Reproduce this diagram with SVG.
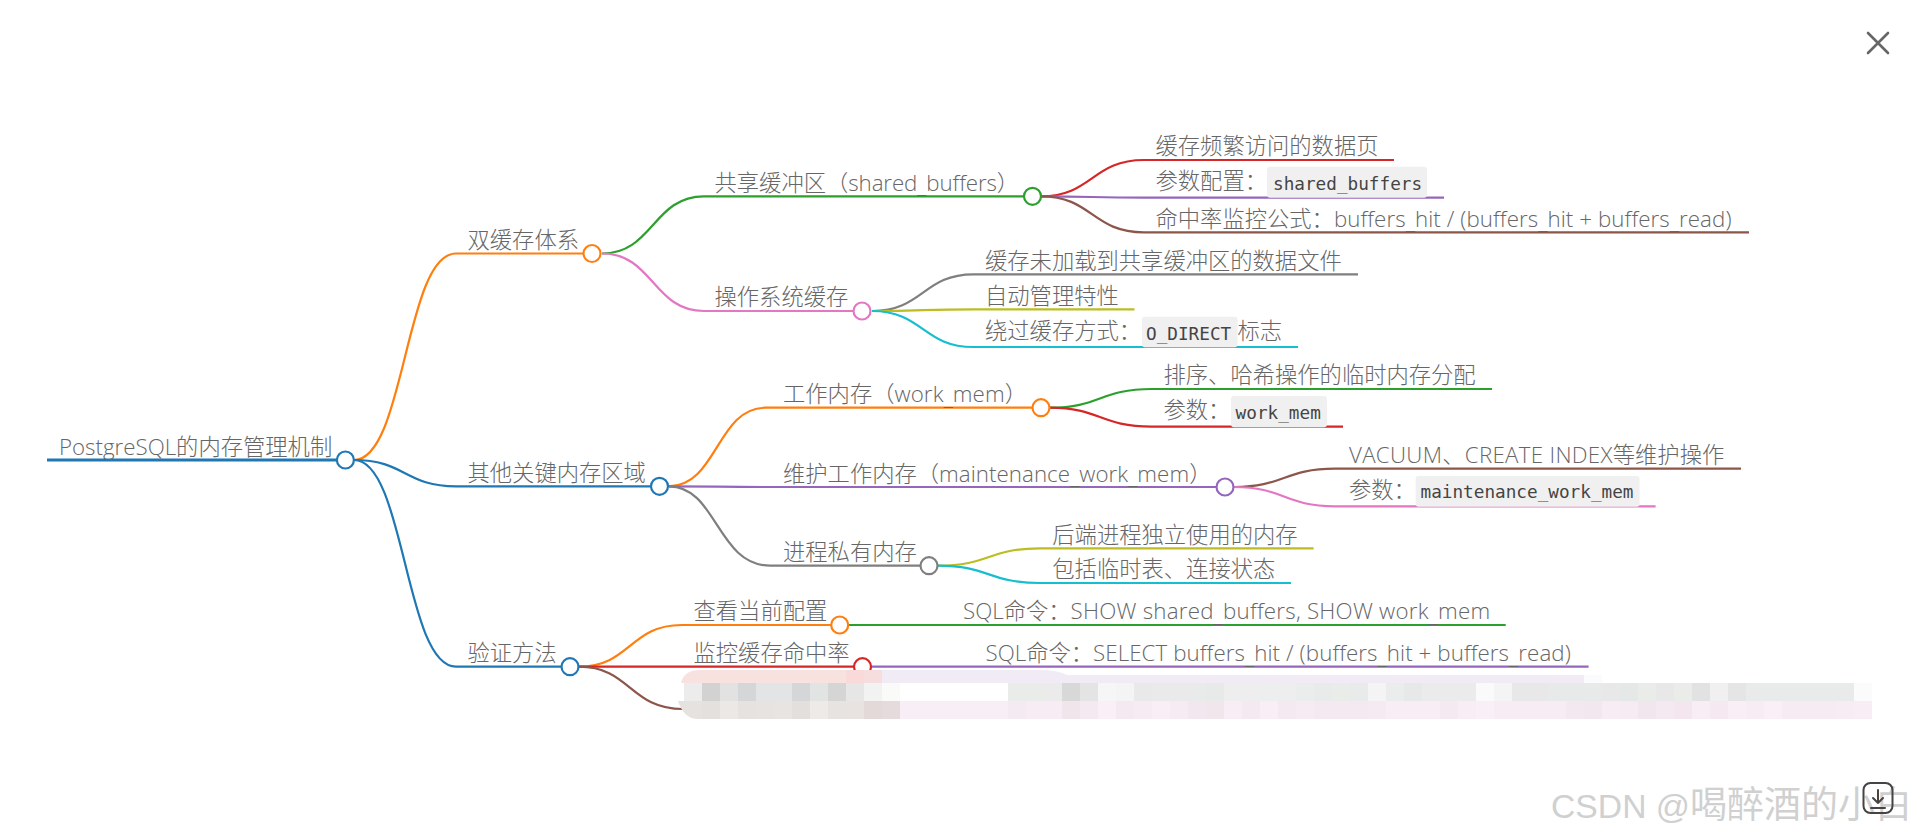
<svg xmlns="http://www.w3.org/2000/svg" width="1920" height="839" viewBox="0 0 1920 839">
<style>
text{font-family:"Open Sans","Noto Sans CJK SC",sans-serif;font-weight:300;font-size:22.3px;fill:#666}
.la{letter-spacing:.09px}
.lb{letter-spacing:.24px}
.lc{letter-spacing:.3px}
.ld{letter-spacing:-.1px}
.le{letter-spacing:.05px}
.code{font-family:"DejaVu Sans Mono",monospace;font-size:17.7px;font-weight:400;fill:#444}
.box{fill:#f0f0f0}
.l{fill:none;stroke-width:2.2}
.n{fill:#fff;stroke-width:2.2}
.c0{stroke:#1f77b4}.c1{stroke:#ff7f0e}.c2{stroke:#2ca02c}.c3{stroke:#d62728}.c4{stroke:#9467bd}.c5{stroke:#8c564b}.c6{stroke:#e377c2}.c7{stroke:#7f7f7f}.c8{stroke:#bcbd22}.c9{stroke:#17becf}
.wm{font-family:"Liberation Sans","Noto Sans CJK SC",sans-serif;font-weight:400;font-size:37px;fill:#d0d0d0}
.ui{fill:none;stroke:#555;stroke-linecap:round;stroke-linejoin:round}
.m rect{width:18px;height:18px}
.r2 rect{y:683px}.r3 rect{y:701px}
</style>
<g id="connectors">
<path class="l c0" style="stroke-width:3" d="M47 460H337"/>
<path class="l c1" d="M354 460C405 460 405 253.5 456 253.5H584"/>
<path class="l c0" d="M354 460C405 460 405 486.3 456 486.3H651"/>
<path class="l c0" d="M354 460C405 460 405 666.7 456 666.7H562"/>
<path class="l c2" d="M602 253.5C653 253.5 653 196.3 704 196.3H1024"/>
<path class="l c6" d="M602 253.5C653 253.5 653 311 704 311H854"/>
<path class="l c3" d="M1041 196.3C1092 196.3 1092 160 1144 160H1394"/>
<path class="l c4" d="M1041 196.3C1092 196.3 1092 197.7 1144 197.7H1444"/>
<path class="l c5" d="M1041 196.3C1092 196.3 1092 232.3 1144 232.3H1749"/>
<path class="l c7" d="M872 311C923 311 923 274.3 973.5 274.3H1358"/>
<path class="l c8" d="M872 311C923 311 923 309.3 973.5 309.3H1134.5"/>
<path class="l c9" d="M872 311C923 311 923 347 973.5 347H1298"/>
<path class="l c1" d="M669 486.3C717 486.3 717 407.7 765.5 407.7H1033"/>
<path class="l c4" d="M669 486.3C717 486.3 717 487 770 487H1217"/>
<path class="l c7" d="M669 486.3C717 486.3 717 565.7 770.5 565.7H921"/>
<path class="l c2" d="M1050 407.7C1100 407.7 1100 389 1151.7 389H1492"/>
<path class="l c3" d="M1050 407.7C1100 407.7 1100 426.7 1151.7 426.7H1343"/>
<path class="l c5" d="M1234 487C1284 487 1284 468.7 1335 468.7H1741"/>
<path class="l c6" d="M1234 487C1284 487 1284 506.3 1335 506.3H1655.6"/>
<path class="l c8" d="M938 565.7C989 565.7 989 548.3 1040 548.3H1313.6"/>
<path class="l c9" d="M938 565.7C989 565.7 989 583 1040 583H1291"/>
<path class="l c1" d="M579 666.7C630 666.7 630 625 681.7 625H832"/>
<path class="l c2" d="M849 625H1505.7"/>
<path class="l c3" d="M579 666.7H854"/>
<path class="l c4" d="M871 666.7H1588.6"/>
<path class="l c5" d="M579 666.7C630 666.7 630 709 682.7 709"/>
</g>
<g id="root"><text x="59" y="454.5">PostgreSQL的内存管理机制</text><circle class="n c0" cx="345.4" cy="460" r="8.5"/></g>
<g id="n-dual"><text x="467.5" y="248">双缓存体系</text><circle class="n c1" cx="592" cy="253.5" r="8.5"/></g>
<g id="n-other"><text x="467.5" y="480.5">其他关键内存区域</text><circle class="n c0" cx="659.5" cy="486.3" r="8.5"/></g>
<g id="n-verify"><text x="467.5" y="661">验证方法</text><circle class="n c0" cx="570" cy="666.7" r="8.5"/></g>
<g id="n-shared"><text x="714.5" y="190.5">共享缓冲区（<tspan class="ld">shared<tspan dy="2.5">_</tspan><tspan dy="-2.5">buffers</tspan></tspan>）</text><circle class="n c2" cx="1032.5" cy="196.3" r="8.5"/></g>
<g id="n-os"><text x="714.5" y="305">操作系统缓存</text><circle class="n c6" cx="862" cy="311" r="8.5"/></g>
<g id="n-work"><text x="783" y="402">工作内存（<tspan class="la">work<tspan dy="2.5">_</tspan><tspan dy="-2.5">mem</tspan></tspan>）</text><circle class="n c1" cx="1041" cy="407.7" r="8.5"/></g>
<g id="n-maint"><text x="783" y="481.5">维护工作内存（<tspan class="le">maintenance<tspan dy="2.5">_</tspan><tspan dy="-2.5">work</tspan><tspan dy="2.5">_</tspan><tspan dy="-2.5">mem</tspan></tspan>）</text><circle class="n c4" cx="1225" cy="487" r="8.5"/></g>
<g id="n-private"><text x="783" y="560">进程私有内存</text><circle class="n c7" cx="929" cy="565.7" r="8.5"/></g>
<g id="n-showcfg"><text x="693.5" y="619">查看当前配置</text><circle class="n c1" cx="839.7" cy="625" r="8.5"/></g>
<g id="n-monitor"><text x="693.5" y="661">监控缓存命中率</text><circle class="n c3" cx="862.5" cy="666.7" r="8.5"/></g>
<g id="leaf-1"><text x="1155.5" y="154">缓存频繁访问的数据页</text></g>
<g id="leaf-2"><text x="1155.5" y="189">参数配置：</text><rect class="box" x="1267" y="166.7" width="160" height="31" rx="3"/><text class="code" x="1273" y="189.5">shared_buffers</text></g>
<g id="leaf-3"><text x="1155.5" y="226.5">命中率监控公式：<tspan class="la">buffers<tspan dy="2.5">_</tspan><tspan dy="-2.5">hit / (buffers</tspan><tspan dy="2.5">_</tspan><tspan dy="-2.5">hit + buffers</tspan><tspan dy="2.5">_</tspan><tspan dy="-2.5">read)</tspan></tspan></text></g>
<g id="leaf-4"><text x="985" y="268.5">缓存未加载到共享缓冲区的数据文件</text></g>
<g id="leaf-5"><text x="985" y="303.5">自动管理特性</text></g>
<g id="leaf-6"><text x="985" y="339">绕过缓存方式：</text><rect class="box" x="1142" y="316.7" width="95.5" height="30.6" rx="3"/><text class="code" x="1146" y="339.5">O_DIRECT</text><text x="1237.5" y="339">标志</text></g>
<g id="leaf-7"><text x="1163.5" y="383">排序、哈希操作的临时内存分配</text></g>
<g id="leaf-8"><text x="1163.5" y="418">参数：</text><rect class="box" x="1231" y="396" width="96" height="31.3" rx="3"/><text class="code" x="1235.6" y="418.5">work_mem</text></g>
<g id="leaf-9"><text x="1349" y="463"><tspan class="lc">VACUUM、CREATE INDEX</tspan>等维护操作</text></g>
<g id="leaf-10"><text x="1349" y="497.5">参数：</text><rect class="box" x="1415.6" y="476" width="224" height="30.7" rx="3"/><text class="code" x="1420.5" y="498">maintenance_work_mem</text></g>
<g id="leaf-11"><text x="1052.3" y="542.5">后端进程独立使用的内存</text></g>
<g id="leaf-12"><text x="1052.3" y="577">包括临时表、连接状态</text></g>
<g id="leaf-13"><text x="963" y="619">SQL命令：<tspan class="lb">SHOW shared<tspan dy="2.5">_</tspan><tspan dy="-2.5">buffers, SHOW work</tspan><tspan dy="2.5">_</tspan><tspan dy="-2.5">mem</tspan></tspan></text></g>
<g id="leaf-14"><text x="985.5" y="661">SQL命令：<tspan class="la">SELECT buffers<tspan dy="2.5">_</tspan><tspan dy="-2.5">hit / (buffers</tspan><tspan dy="2.5">_</tspan><tspan dy="-2.5">hit + buffers</tspan><tspan dy="2.5">_</tspan><tspan dy="-2.5">read)</tspan></tspan></text></g>
<g id="mosaic" class="m">
<path fill="#f8e2e0" d="M681 683Q684 670 700 670H846V683Z"/>
<path fill="#f9d9d9" d="M846 670h18v13h-18z"/>
<path fill="#f7dede" d="M864 670h18v13h-18z"/>
<path fill="#f1ebf6" d="M882 670H1045Q1060 671 1067 675H1584V683H882Z"/>
<path fill="#fbfbfd" d="M1584 675h18v8h-18z"/>
<path fill="#e6e2df" d="M678 701H702V719H698Q684 719 678 701Z"/>
<g class="r2">
<rect x="684" fill="#ececec"/><rect x="702" fill="#d2d2d2"/><rect x="720" fill="#e2e2e2"/><rect x="738" fill="#d5d6d7"/><rect x="756" fill="#e2e4e5"/><rect x="774" fill="#e2e4e5"/><rect x="792" fill="#d5d6d8"/><rect x="810" fill="#e2e3e3"/><rect x="828" fill="#d5d5d6"/><rect x="846" fill="#e6e6e6"/><rect x="864" fill="#f2f2f2"/><rect x="882" fill="#fafaf9"/>
<rect x="1008" fill="#eaecea"/><rect x="1026" fill="#eaecea"/><rect x="1044" fill="#ebebeb"/><rect x="1062" fill="#d8d8d8"/><rect x="1080" fill="#e4e4e4"/><rect x="1098" fill="#f6f6f6"/><rect x="1116" fill="#f4f4f4"/><rect x="1134" fill="#e9e9e9"/><rect x="1152" fill="#eaeaea"/><rect x="1170" fill="#e9eae9"/><rect x="1188" fill="#e9ebea"/><rect x="1206" fill="#e8eae9"/><rect x="1224" fill="#eeeeee"/><rect x="1242" fill="#eeeeee"/><rect x="1260" fill="#edefee"/><rect x="1278" fill="#eeeeee"/><rect x="1296" fill="#ebedec"/>
<rect x="1314" fill="#e9ebea"/><rect x="1332" fill="#eaecea"/><rect x="1350" fill="#e9ebea"/><rect x="1368" fill="#f4f4f4"/><rect x="1386" fill="#ebedec"/><rect x="1404" fill="#e7e9e8"/><rect x="1422" fill="#ebebeb"/><rect x="1440" fill="#ebebeb"/><rect x="1458" fill="#ebebeb"/><rect x="1476" fill="#fafafa"/><rect x="1494" fill="#f4f4f4"/><rect x="1512" fill="#e8e8e8"/><rect x="1530" fill="#e8e8e8"/><rect x="1548" fill="#e8eaea"/><rect x="1566" fill="#e8eaea"/><rect x="1584" fill="#e8eaea"/>
<rect x="1602" fill="#e8e8e8"/><rect x="1620" fill="#e4e8e6"/><rect x="1638" fill="#eaecea"/><rect x="1656" fill="#e8e8e8"/><rect x="1674" fill="#eaecea"/><rect x="1692" fill="#e2e2e2"/><rect x="1710" fill="#f0f0f0"/><rect x="1728" fill="#e5e5e5"/><rect x="1746" fill="#e9eaea"/><rect x="1764" fill="#e9eaea"/><rect x="1782" fill="#e9eaea"/><rect x="1800" fill="#e9eaea"/><rect x="1818" fill="#e9eaea"/><rect x="1836" fill="#e9eaea"/><rect x="1854" fill="#fbfbfb"/>
</g>
<g class="r3">
<rect x="702" fill="#e4e0dd"/><rect x="720" fill="#ece8e5"/><rect x="738" fill="#e6e2df"/><rect x="756" fill="#e7e3e0"/><rect x="774" fill="#e8e4e1"/><rect x="792" fill="#e3dfdc"/><rect x="810" fill="#eeeae8"/><rect x="828" fill="#e7e3e0"/><rect x="846" fill="#e8e3e1"/><rect x="864" fill="#e2d9d8"/><rect x="882" fill="#e6dbdc"/>
<rect x="900" fill="#f8eef6"/><rect x="918" fill="#f8eef6"/><rect x="936" fill="#f8eef6"/><rect x="954" fill="#f8eef6"/><rect x="972" fill="#f8eef6"/><rect x="990" fill="#f8eef6"/>
<rect x="1008" fill="#f4eaf1"/><rect x="1026" fill="#f7ecf3"/><rect x="1044" fill="#f7ecf3"/><rect x="1062" fill="#f1e5ec"/><rect x="1080" fill="#f5e9f1"/><rect x="1098" fill="#faeff6"/><rect x="1116" fill="#f5e9f1"/><rect x="1134" fill="#f6ebf3"/><rect x="1152" fill="#f9eef6"/><rect x="1170" fill="#f7ebf3"/><rect x="1188" fill="#f2e7ee"/><rect x="1206" fill="#f0e6ec"/><rect x="1224" fill="#f8edf5"/><rect x="1242" fill="#f4e9f0"/><rect x="1260" fill="#f9eef6"/><rect x="1278" fill="#f4e9f0"/><rect x="1296" fill="#f7ebf3"/>
<rect x="1314" fill="#f4e9f0"/><rect x="1332" fill="#f4e9f0"/><rect x="1350" fill="#f4e9f0"/><rect x="1368" fill="#f5eaf2"/><rect x="1386" fill="#f8edf5"/><rect x="1404" fill="#f8edf5"/><rect x="1422" fill="#f8edf5"/><rect x="1440" fill="#f5e9f1"/><rect x="1458" fill="#f8edf5"/><rect x="1476" fill="#f9eff7"/><rect x="1494" fill="#f7ecf4"/><rect x="1512" fill="#f7ecf4"/><rect x="1530" fill="#f7ecf4"/><rect x="1548" fill="#f7ecf4"/><rect x="1566" fill="#f4e8f0"/><rect x="1584" fill="#f3e7ef"/>
<rect x="1602" fill="#f7ecf4"/><rect x="1620" fill="#f6ebf3"/><rect x="1638" fill="#f2e6ee"/><rect x="1656" fill="#f5e9f1"/><rect x="1674" fill="#f3e6ee"/><rect x="1692" fill="#f9edf5"/><rect x="1710" fill="#f5e8f1"/><rect x="1728" fill="#f9eef6"/><rect x="1746" fill="#f8ecf4"/><rect x="1764" fill="#faeff7"/><rect x="1782" fill="#f7ebf3"/><rect x="1800" fill="#f7ebf3"/><rect x="1818" fill="#f7ebf3"/><rect x="1836" fill="#f8ecf4"/><rect x="1854" fill="#f9edf5"/>
</g>
</g>
<g id="watermark"><text class="wm" x="1551" y="818"><tspan style="font-size:33.7px">CSDN @</tspan>喝醉酒的小白</text></g>
<g id="download"><rect class="ui" x="1863.5" y="783" width="29" height="30" rx="7" style="stroke-width:2;stroke:#444"/><path class="ui" d="M1878 790V803M1873 798L1878 803L1883 798M1871 808H1885" style="stroke-width:2;stroke:#444"/></g>
<g id="close"><path class="ui" d="M1868 33L1888 53M1888 33L1868 53" style="stroke-width:2.6;stroke:#666"/></g>
</svg>
